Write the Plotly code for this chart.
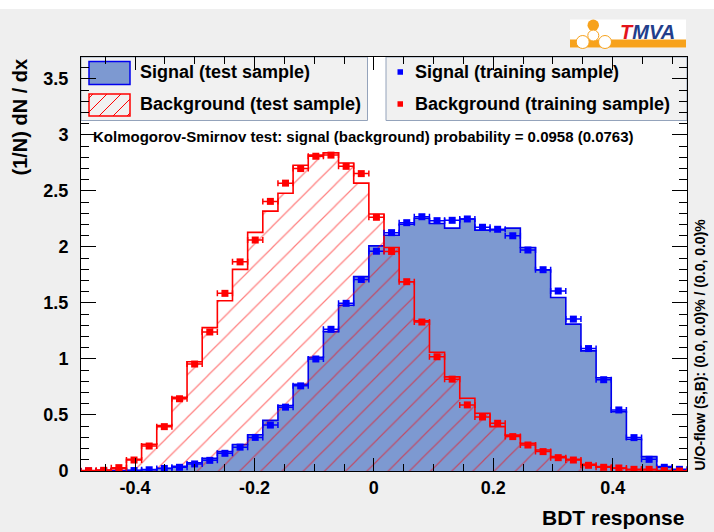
import numpy as np
import plotly.graph_objects as go

# ---------------- data ----------------
bdt_min = -0.4905
bdt_max = 0.5245
n_bins = 40

sig_test = [0.0, 0.0, 0.002, 0.006, 0.013, 0.024, 0.042, 0.074, 0.113, 0.174,
            0.236, 0.323, 0.452, 0.585, 0.774, 1.015, 1.244, 1.48, 1.735, 2.01,
            2.105, 2.203, 2.256, 2.21, 2.168, 2.25, 2.15, 2.152, 2.168, 1.995,
            1.795, 1.549, 1.311, 1.072, 0.832, 0.53, 0.283, 0.128, 0.039, 0.006]

sig_train = [0.0, 0.0, 0.001, 0.004, 0.011, 0.023, 0.033, 0.063, 0.095, 0.158,
             0.213, 0.30, 0.41, 0.57, 0.76, 1.0, 1.265, 1.497, 1.71, 1.962,
             2.128, 2.217, 2.27, 2.235, 2.238, 2.25, 2.176, 2.158, 2.10, 1.973,
             1.797, 1.607, 1.356, 1.093, 0.815, 0.545, 0.298, 0.104, 0.033, 0.015]

bkg_test = [0.003, 0.008, 0.02, 0.104, 0.238, 0.405, 0.658, 0.976, 1.28, 1.52,
            1.80, 2.13, 2.32, 2.48, 2.73, 2.82, 2.84, 2.75, 2.57, 2.295,
            1.995, 1.69, 1.34, 1.06, 0.84, 0.65, 0.515, 0.396, 0.32, 0.247,
            0.188, 0.128, 0.104, 0.06, 0.039, 0.024, 0.009, 0.009, 0.005, 0.0]

bkg_train = [0.003, 0.006, 0.03, 0.098, 0.223, 0.396, 0.645, 0.955, 1.241, 1.586,
             1.867, 2.062, 2.407, 2.57, 2.70, 2.81, 2.82, 2.72, 2.655, 2.265,
             1.96, 1.69, 1.33, 1.02, 0.82, 0.59, 0.482, 0.426, 0.307, 0.232,
             0.173, 0.119, 0.098, 0.051, 0.033, 0.027, 0.015, 0.015, 0.003, 0.0]

x_tick_vals = [-0.4, -0.2, 0.0, 0.2, 0.4]
x_tick_text = ["-0.4", "-0.2", "0", "0.2", "0.4"]
y_tick_vals = [0, 0.5, 1, 1.5, 2, 2.5, 3, 3.5]
y_tick_text = ["0", "0.5", "1", "1.5", "2", "2.5", "3", "3.5"]
y_max = 3.696

ks_signal = "0.0958"
ks_background = "0.0763"
uo_text = "U/O-flow (S,B): (0.0, 0.0)% / (0.0, 0.0)%"

# ---------------- derived ----------------
edges = np.linspace(bdt_min, bdt_max, n_bins + 1)
centers = 0.5 * (edges[:-1] + edges[1:])
half_width = 0.5 * (edges[1] - edges[0])


def step_xy(vals):
    vals = np.asarray(vals, dtype=float)
    x = np.concatenate([[edges[0]], edges, [edges[-1]]])
    y = np.concatenate([[0.0], vals, [vals[-1]], [0.0]])
    return x, y


# ---------------- layout geometry (pixels) ----------------
W, H = 714, 532
L, R, T, B = 81, 687, 57, 471
FONT = "Liberation Sans, Arial, Helvetica, sans-serif"


def px(xp):
    return (xp - L) / (R - L)


def py(yp):
    return (B - yp) / (B - T)


BLUE = "#0000ff"
SIGFILL = "#7d99d1"
SIGLINE = "#0000ee"
RED = "#ff0000"

fig = go.Figure()

sx, sy = step_xy(sig_test)
fig.add_trace(go.Scatter(x=sx, y=sy, mode="lines", line=dict(color=SIGLINE, width=1.6, shape="hv"),
                         fill="tozeroy", fillcolor=SIGFILL, hoverinfo="skip",
                         name="Signal (test sample)"))

bx, by = step_xy(bkg_test)
fig.add_trace(go.Scatter(x=bx, y=by, mode="lines", line=dict(color=RED, width=1.6, shape="hv"),
                         fill="tozeroy", fillcolor="rgba(0,0,0,0)",
                         fillpattern=dict(shape="/", fgcolor=RED, bgcolor="rgba(0,0,0,0)",
                                          size=15, solidity=0.08, fillmode="overlay"),
                         hoverinfo="skip", name="Background (test sample)"))

fig.add_trace(go.Scatter(x=centers, y=sig_train, mode="markers",
                         marker=dict(symbol="square", size=7, color=BLUE),
                         error_x=dict(type="constant", value=half_width, color=BLUE, thickness=1.5, width=3),
                         name="Signal (training sample)"))
fig.add_trace(go.Scatter(x=centers, y=bkg_train, mode="markers",
                         marker=dict(symbol="square", size=7, color=RED),
                         error_x=dict(type="constant", value=half_width, color=RED, thickness=1.5, width=3),
                         name="Background (training sample)"))

shapes = []
annotations = []

# white strip at the very top of the canvas
shapes.append(dict(type="rect", xref="paper", yref="paper", x0=px(0), x1=px(W), y0=py(9), y1=py(0),
                   fillcolor="white", line=dict(width=0), layer="below"))

# legend boxes
LEG_BG = "#f1f1f1"
LEG_BORDER = "#94a3bb"
shapes.append(dict(type="rect", xref="paper", yref="paper", x0=px(81), x1=px(367.5), y0=py(120.5), y1=py(57),
                   fillcolor=LEG_BG, line=dict(color=LEG_BORDER, width=1), layer="below"))
shapes.append(dict(type="rect", xref="paper", yref="paper", x0=px(386), x1=px(687), y0=py(120.5), y1=py(57),
                   fillcolor=LEG_BG, line=dict(color=LEG_BORDER, width=1), layer="below"))

# swatch 1: signal fill
shapes.append(dict(type="rect", xref="paper", yref="paper", x0=px(89), x1=px(130), y0=py(84.5), y1=py(61.5),
                   fillcolor=SIGFILL, line=dict(color=SIGLINE, width=1.5), layer="below"))
# swatch 2: hatched background
sw_x0, sw_x1, sw_y0, sw_y1 = 89, 130, 94, 116
shapes.append(dict(type="rect", xref="paper", yref="paper", x0=px(sw_x0), x1=px(sw_x1), y0=py(sw_y1), y1=py(sw_y0),
                   fillcolor="rgba(0,0,0,0)", line=dict(color=RED, width=1.5), layer="below"))
h = sw_y1 - sw_y0
for off in np.arange(-h + 4, sw_x1 - sw_x0, 14.0):
    xa, ya = sw_x0 + off, sw_y1
    xb, yb = sw_x0 + off + h, sw_y0
    if xa < sw_x0:
        ya = sw_y1 - (sw_x0 - xa)
        xa = sw_x0
    if xb > sw_x1:
        yb = sw_y0 + (xb - sw_x1)
        xb = sw_x1
    if xb <= xa:
        continue
    shapes.append(dict(type="line", xref="paper", yref="paper", x0=px(xa), y0=py(ya), x1=px(xb), y1=py(yb),
                       line=dict(color=RED, width=1), layer="below"))

# legend markers (training)
for yc, col in [(72, BLUE), (104, RED)]:
    shapes.append(dict(type="rect", xref="paper", yref="paper", x0=px(397.5), x1=px(403), y0=py(yc + 2.75),
                       y1=py(yc - 2.75), fillcolor=col, line=dict(width=0), layer="below"))

leg_font = dict(family=FONT, size=18, color="black", weight="bold")
for xp, yp, txt in [(138, 72, "Signal (test sample)"), (138, 104, "Background (test sample)"),
                    (413, 72, "Signal (training sample)"), (413, 104, "Background (training sample)")]:
    annotations.append(dict(xref="paper", yref="paper", x=px(xp), y=py(yp), text=txt, showarrow=False,
                            xanchor="left", yanchor="middle", font=leg_font))

# KS text
annotations.append(dict(xref="paper", yref="paper", x=px(91), y=py(136),
                        text="Kolmogorov-Smirnov test: signal (background) probability = %s (%s)" % (ks_signal, ks_background),
                        showarrow=False, xanchor="left", yanchor="middle",
                        font=dict(family=FONT, size=15, color="black", weight="bold")))

# axis titles
annotations.append(dict(xref="paper", yref="paper", x=px(19), y=py(57), text="(1/N) dN / dx", textangle=-90,
                        showarrow=False, xanchor="center", yanchor="top",
                        font=dict(family=FONT, size=20, color="black", weight="bold")))
annotations.append(dict(xref="paper", yref="paper", x=px(686), y=py(517), text="BDT response",
                        showarrow=False, xanchor="right", yanchor="middle",
                        font=dict(family=FONT, size=21, color="black", weight="bold")))
annotations.append(dict(xref="paper", yref="paper", x=px(699.5), y=py(473), text=uo_text, textangle=-90,
                        showarrow=False, xanchor="center", yanchor="bottom",
                        font=dict(family=FONT, size=14, color="black", weight="bold")))

# TMVA logo
ORANGE = "#f7a21c"
shapes.append(dict(type="rect", xref="paper", yref="paper", x0=px(570), x1=px(686), y0=py(47.5), y1=py(19.5),
                   fillcolor="white", line=dict(width=0)))
shapes.append(dict(type="rect", xref="paper", yref="paper", x0=px(570), x1=px(686), y0=py(47.5), y1=py(39.5),
                   fillcolor=ORANGE, line=dict(width=0)))
shapes.append(dict(type="circle", xref="paper", yref="paper", x0=px(587.5), x1=px(599), y0=py(31), y1=py(19.5),
                   fillcolor=ORANGE, line=dict(width=0)))
for cx, cy, r in [(593.3, 35.5, 5.5), (582.7, 42, 6.5), (605, 42, 6.5)]:
    shapes.append(dict(type="circle", xref="paper", yref="paper", x0=px(cx - r), x1=px(cx + r), y0=py(cy + r),
                       y1=py(cy - r), fillcolor="white", line=dict(color=ORANGE, width=1)))
annotations.append(dict(xref="paper", yref="paper", x=px(647), y=py(32.5),
                        text="<i><b><span style='color:#e3131b'>T</span>MVA</b></i>",
                        showarrow=False, xanchor="center", yanchor="middle",
                        font=dict(family=FONT, size=20, color="#233e8b")))

tick_font = dict(family=FONT, size=18, color="black", weight="bold")

fig.update_layout(
    width=W, height=H,
    margin=dict(l=L, r=W - R, t=T, b=H - B, pad=0),
    paper_bgcolor="#efefef", plot_bgcolor="white",
    showlegend=False,
    shapes=shapes, annotations=annotations,
    xaxis=dict(range=[bdt_min, bdt_max], showgrid=False, zeroline=False,
               showline=True, linecolor="black", linewidth=1, mirror="allticks",
               ticks="inside", ticklen=13, tickwidth=1, tickcolor="black",
               tickmode="array", tickvals=x_tick_vals, ticktext=x_tick_text,
               tickfont=tick_font, ticklabelstandoff=0,
               minor=dict(ticks="inside", dtick=0.05, tick0=0, ticklen=7, tickwidth=1, tickcolor="black",
                          showgrid=False)),
    yaxis=dict(range=[0, y_max], showgrid=False, zeroline=False,
               showline=True, linecolor="black", linewidth=1, mirror="allticks",
               ticks="inside", ticklen=15, tickwidth=1, tickcolor="black",
               tickmode="array", tickvals=y_tick_vals, ticktext=y_tick_text,
               tickfont=tick_font, ticklabelstandoff=8,
               minor=dict(ticks="inside", dtick=0.1, tick0=0, ticklen=8, tickwidth=1, tickcolor="black",
                          showgrid=False)),
)

fig.write_html("out.html",
               config={"displayModeBar": False},
               post_script="document.body.style.margin='0';document.body.style.padding='0';"
                           "document.body.style.overflow='hidden';")
